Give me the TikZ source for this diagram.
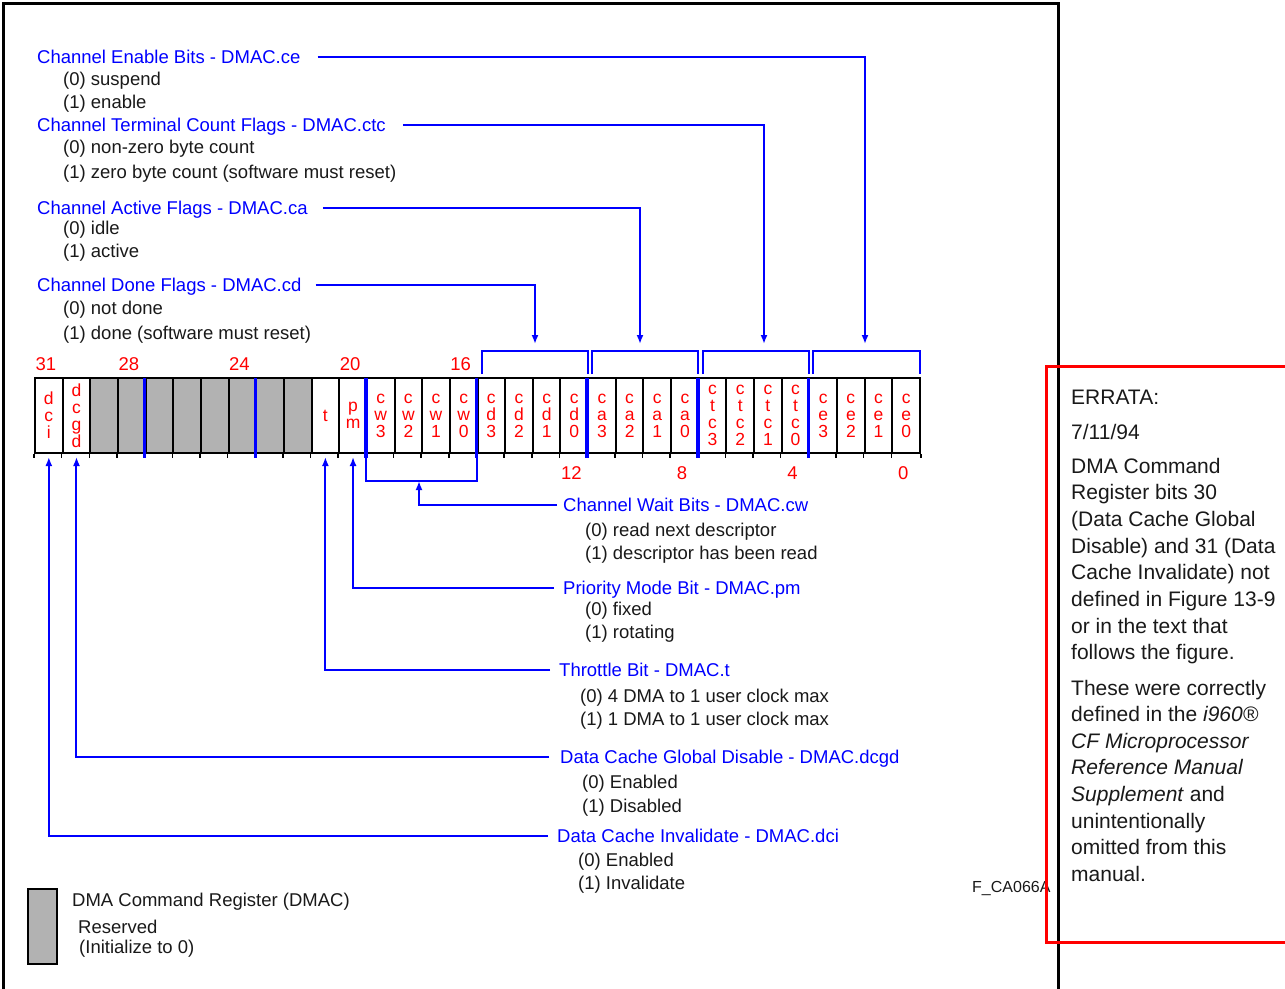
\documentclass[tikz,border=0pt]{standalone}
\usepackage{fontspec}
\setmainfont{Liberation Sans}
\usetikzlibrary{positioning,arrows.meta}
\definecolor{regblue}{RGB}{0,0,255}
\definecolor{regred}{RGB}{255,0,0}
\definecolor{resgray}{RGB}{178,178,178}
\begin{document}
\begin{tikzpicture}[x=1pt, y=1pt, >={Latex[length=9pt,width=7pt]},
    every node/.style={inner sep=0pt},
    txt/.style={font=\fontsize{18.5}{22}\selectfont},
    heading/.style={txt, text=regblue, anchor=west, text height=13pt, text depth=0pt},
    item/.style={txt, text=black!90, anchor=base west},
    errata/.style={font=\fontsize{21}{26}\selectfont, text=black!90, anchor=base west},
    bitcell/.style={draw, line width=2pt, minimum width=27.656pt, minimum height=75pt,
      align=center, text=regred, font=\fontsize{17.5}{17}\selectfont},
    reserved/.style={bitcell, fill=resgray},
    bitnum/.style={txt, text=regred},
    wire/.style={regblue, line width=2pt},
    nibble/.style={regblue, line width=3.5pt}]
  \useasboundingbox (0,0) rectangle (1285,-988);
  % page frame
  \draw[line width=3pt] (3,-995) -- (3,-3) -- (1058,-3) -- (1058,-995);

  % register cells
  \foreach \b/\lbl in {31/{d\\c\\i}, 30/{d\\c\\g\\d}, 21/t, 20/{p\\m}}
    \node[bitcell] (b\b) at ({920-(\b+0.5)*27.656},-415.5) {\lbl};
  \foreach \b in {22,...,29}
    \node[reserved] (b\b) at ({920-(\b+0.5)*27.656},-415.5) {};
  \foreach \g/\lo in {{c\\w}/16, {c\\d}/12, {c\\a}/8, {c\\t\\c}/4, {c\\e}/0}
    \foreach \k in {0,...,3} {
      \pgfmathtruncatemacro\bit{\lo+\k}
      \node[bitcell] (b\bit) at ({920-(\bit+0.5)*27.656},-415.5) {\g\\\k};
    }
  \foreach \b in {0,...,31}
    \draw[line width=1.5pt] (b\b.south west) -- ++(0,-4);
  \draw[line width=1.5pt] (b0.south east) -- ++(0,-4);
  \foreach \b in {27,23,19,15,11,7,3}
    \draw[nibble] ([yshift=-1pt]b\b.north west) -- ([yshift=-4pt]b\b.south west);

  % bit numbers
  \foreach \b in {31,28,24,20,16}
    \node[bitnum, anchor=south] (n\b) at ([xshift=-3pt,yshift=6.5pt]b\b.north) {\b};
  \foreach \b in {12,8,4,0}
    \node[bitnum, anchor=north] (n\b) at ([xshift=-3pt,yshift=-12.5pt]b\b.south) {\b};

  % field brackets
  \foreach \hi/\lo in {15/12, 11/8, 7/4, 3/0}
    \draw[wire] ([xshift=5pt,yshift=3pt]b\hi.north west) -- ++(0,23)
      -| ([xshift=-1.5pt,yshift=3pt]b\lo.north east);
  \draw[wire] ([yshift=-2pt]b19.south west) -- ++(0,-25)
    -| ([xshift=-1.5pt,yshift=-2pt]b16.south east);
  \coordinate (cdtop) at (535,-344);
  \coordinate (catop) at (640,-344);
  \coordinate (ctctop) at (764,-344);
  \coordinate (cetop) at (865,-344);
  \coordinate (cwbot) at (419,-481);

  % upper fields
  \node[heading] (cehead) at (37,-57) {Channel Enable Bits - DMAC.ce};
  \node[item] (ce0) at (63,-85) {(0) suspend};
  \node[item] (ce1) at (63,-108) {(1) enable};
  \node[heading] (ctchead) at (37,-125) {Channel Terminal Count Flags - DMAC.ctc};
  \node[item] (ctc0) at (63,-153) {(0) non-zero byte count};
  \node[item] (ctc1) at (63,-178) {(1) zero byte count (software must reset)};
  \node[heading] (cahead) at (37,-208) {Channel Active Flags - DMAC.ca};
  \node[item] (ca0) at (63,-234) {(0) idle};
  \node[item] (ca1) at (63,-257) {(1) active};
  \node[heading] (cdhead) at (37,-285) {Channel Done Flags - DMAC.cd};
  \node[item] (cd0) at (63,-314) {(0) not done};
  \node[item] (cd1) at (63,-339) {(1) done (software must reset)};
  \draw[wire, ->, shorten <=17pt] (cehead.east) -| (cetop);
  \draw[wire, ->, shorten <=17pt] (ctchead.east) -| (ctctop);
  \draw[wire, ->, shorten <=15pt] (cahead.east) -| (catop);
  \draw[wire, ->, shorten <=14pt] (cdhead.east) -| (cdtop);

  % lower fields
  \node[heading] (cwhead) at (563,-505) {Channel Wait Bits - DMAC.cw};
  \node[item] (cw0) at (585,-536) {(0) read next descriptor};
  \node[item] (cw1) at (585,-559) {(1) descriptor has been read};
  \node[heading] (pmhead) at (563,-588) {Priority Mode Bit - DMAC.pm};
  \node[item] (pm0) at (585,-615) {(0) fixed};
  \node[item] (pm1) at (585,-638) {(1) rotating};
  \node[heading] (thead) at (559,-670) {Throttle Bit - DMAC.t};
  \node[item] (t0) at (580,-702) {(0) 4 DMA to 1 user clock max};
  \node[item] (t1) at (580,-725) {(1) 1 DMA to 1 user clock max};
  \node[heading] (dcgdhead) at (560,-757) {Data Cache Global Disable - DMAC.dcgd};
  \node[item] (dcgd0) at (582,-788) {(0) Enabled};
  \node[item] (dcgd1) at (582,-812) {(1) Disabled};
  \node[heading] (dcihead) at (557,-836) {Data Cache Invalidate - DMAC.dci};
  \node[item] (dci0) at (578,-866) {(0) Enabled};
  \node[item] (dci1) at (578,-889) {(1) Invalidate};
  \draw[wire, ->, shorten <=6pt] (cwhead.west) -| (cwbot);
  \draw[wire, ->, shorten <=9pt] (pmhead.west) -| ([yshift=-3pt]b20.south);
  \draw[wire, ->, shorten <=9pt] (thead.west) -| ([yshift=-3pt]b21.south);
  \draw[wire, ->, shorten <=11pt] (dcgdhead.west) -| ([yshift=-3pt]b30.south);
  \draw[wire, ->, shorten <=9pt] (dcihead.west) -| ([yshift=-3pt]b31.south);

  % legend
  \node[draw, line width=2.5pt, fill=resgray, minimum width=29pt, minimum height=75pt]
    (legbox) at (42.5,-926.5) {};
  \node[item] (legtitle) at (72,-906) {DMA Command Register (DMAC)};
  \node[item] (legres) at (78,-933) {Reserved};
  \node[item] (leginit) at (79,-953) {(Initialize to 0)};
  \node[anchor=base west, font=\fontsize{16}{18}\selectfont, text=black!90]
    (figid) at (972,-892) {F\_CA066A};

  % errata note
  \draw[regred, line width=3pt] (1295,-366) -- (1046,-366) -- (1046,-942) -- (1295,-942);
  \node[errata] (errhead) at (1071,-404) {ERRATA:};
  \node[errata] (errdate) at (1071,-439) {7/11/94};
  \foreach \ln [count=\i from 0] in {{DMA Command}, {Register bits 30}, {(Data Cache Global},
      {Disable) and 31 (Data}, {Cache Invalidate) not}, {defined in Figure 13-9},
      {or in the text that}, {follows the figure.}}
    \node[errata] (erra\i) at (1071,{-473-\i*26.7}) {\ln};
  \foreach \ln [count=\i from 0] in {{These were correctly}, {defined in the \textit{i960®}},
      {\textit{CF Microprocessor}}, {\textit{Reference Manual}}, {\textit{Supplement} and},
      {unintentionally}, {omitted from this}, {manual.}}
    \node[errata] (errb\i) at (1071,{-695-\i*26.6}) {\ln};
\end{tikzpicture}
\end{document}
